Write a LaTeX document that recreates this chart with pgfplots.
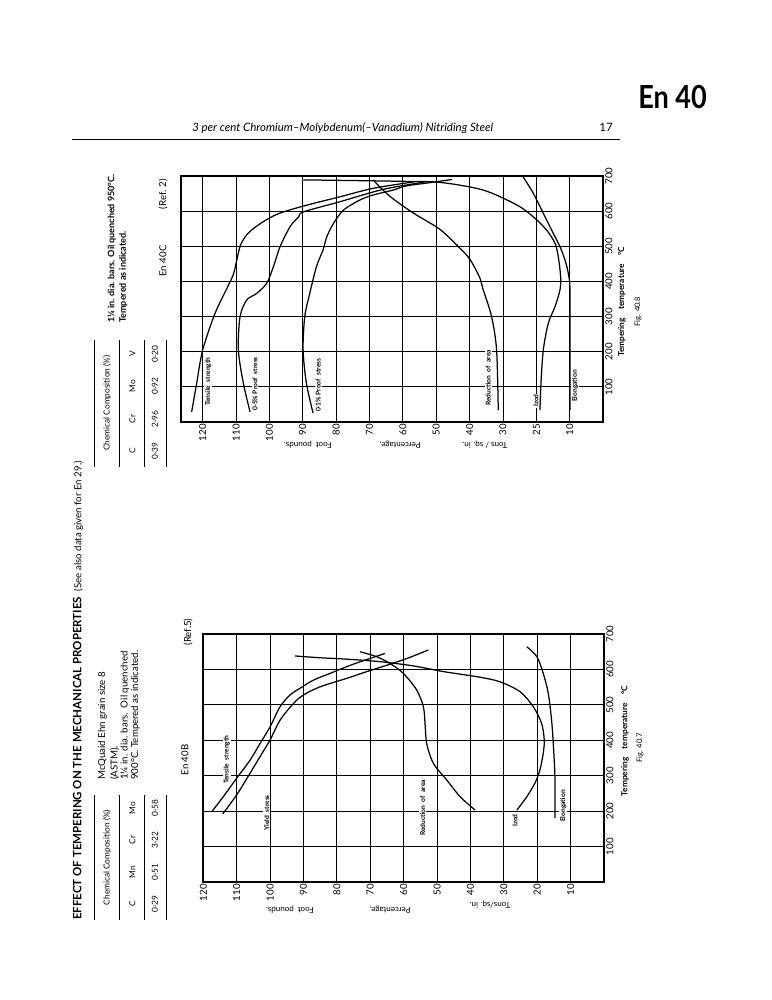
\documentclass[border=0pt]{standalone}
\usepackage{fontspec}
\setmainfont{Lato}
\usepackage{pgfplots}
\pgfplotsset{compat=1.18}
\newcommand{\fs}[1]{\fontsize{#1}{#1}\selectfont}
\pgfplotsset{
  chart/.style={
    scale only axis, anchor=south west,
    x dir=reverse, ymin=0, ymax=700,
    xtick={10,20,30,40,50,60,70,80,90,100,110,120},
    ytick={100,200,300,400,500,600,700},
    yticklabels={100,200,300,400,500,600,700},
    grid=major, major grid style={black, line width=0.6pt},
    major tick length=0pt,
    axis line style={line width=1.3pt},
    xticklabel style={rotate=90, anchor=east, inner sep=1.5pt, font=\fs{7}},
    yticklabel pos=right,
    yticklabel style={rotate=90, anchor=north, inner sep=1.5pt, font=\fs{7}},
  },
  curve/.style={black, line width=0.9pt, smooth, tension=0.5, no marks},
}
\begin{document}
\begin{tikzpicture}
\begin{scope}[x=0.254mm,y=-0.254mm]
\path[use as bounding box] (0,0) rectangle (772,1000);
\end{scope}

% ---------------- Fig. 40.8 (top) ----------------
\begin{axis}[chart,
  at={(181*0.254mm,-422*0.254mm)}, width=107.19mm, height=62.48mm,
  xmin=0, xmax=126.5,
  xticklabels={10,25,30,40,50,60,70,80,90,100,110,120}]
% Tensile strength
\addplot[curve] coordinates {(123.3,29) (121.8,110) (120,205) (116.3,309) (112.5,385) (110.8,420) (109.8,460) (108.6,505) (106.3,538) (102.5,566) (98,590) (93,606) (86,624) (78.8,641) (68.9,665) (56.3,684)};
% 0.5% proof stress
\addplot[curve] coordinates {(105.8,29) (107.8,110) (109.3,205) (108.8,300) (106.8,347) (103.8,366) (100.8,395) (98.8,442) (96.8,499) (93.8,556) (91.2,584) (89.8,598) (78.8,627) (65.9,662) (52.8,684)};
% 0.1% proof stress
\addplot[curve] coordinates {(86.9,25) (88.9,110) (89.9,205) (89.4,300) (87.9,366) (85.9,442) (83.9,490) (82.8,527) (80.8,565) (77.8,603) (72.8,632) (68.9,646) (62.9,660) (58.9,672) (52.8,680) (45.3,690)};
% Reduction of area
\addplot[curve] coordinates {(31.4,34) (31.9,205) (33.4,300) (35.9,376) (37,412) (39.9,463) (42.9,495) (46.9,532) (49.9,555) (56.9,595) (62.9,635) (66.5,665) (68.9,689)};
% Izod
\addplot[curve] coordinates {(18.9,34) (18.6,110) (17.9,205) (16.4,281) (14.4,328) (12.9,376) (12.7,413) (13.4,470) (14.4,509) (16.9,546) (20.9,584) (25.9,618) (35.9,660) (48.9,682) (60.9,685) (73.8,687) (89.8,689)};
% Elongation
\addplot[curve] coordinates {(9.9,34) (9.9,200) (9.9,376) (10.4,423) (11.4,461) (12.9,499) (14.9,537) (17.9,594) (20.9,651) (24.1,700)};
\end{axis}

% ---------------- Fig. 40.7 (bottom) ----------------
\begin{axis}[chart,
  at={(203.3*0.254mm,-882*0.254mm)}, width=101.78mm, height=62.99mm,
  xmin=0, xmax=120,
  xticklabels={10,20,30,40,50,60,70,80,90,100,110,120}]
% Tensile strength
\addplot[curve] coordinates {(117.5,198) (114,241) (110,293) (106,344) (103,391) (100,438) (97,495) (94,528) (91,547) (87,570) (82,589) (77,608) (72,625) (65.6,645)};
% Yield stress
\addplot[curve] coordinates {(114.2,192) (110,246) (106,307) (103,354) (100,401) (97,457) (93,504) (90,528) (85,551) (77,575) (71,594) (65,612) (59,631) (52.6,655)};
% Reduction of area
\addplot[curve] coordinates {(38.6,203) (43.1,241) (47.1,288) (51.1,335) (53.1,391) (53.6,448) (54.1,495) (56.1,542) (60.1,589) (64.1,617) (68.1,636) (73.1,650)};
% Izod
\addplot[curve] coordinates {(26.1,203) (23.1,241) (20.7,279) (19.2,316) (18.2,363) (17.9,401) (18.7,448) (21.2,495) (25.1,537) (31.1,565) (37.1,578) (48.1,594) (57.1,610) (67.1,622) (77,629) (85,633) (92.5,638)};
% Elongation
\addplot[curve] coordinates {(14.7,180) (14.7,297) (15.2,391) (15.7,457) (16.7,533) (18.2,589) (20.1,636) (23.1,664)};
\end{axis}

\begin{scope}[x=0.254mm,y=-0.254mm]
% header
\node[anchor=base east, inner sep=0, font=\bfseries\fs{23}\addfontfeatures{FakeStretch=0.85}] at (707,108) {En 40};
\node[anchor=base west, inner sep=0, font=\itshape\fs{8.3}] at (192,131) {3 per cent Chromium–Molybdenum(–Vanadium) Nitriding Steel};
\node[anchor=base east, inner sep=0, font=\fs{8.3}] at (613,131) {17};
\draw[line width=0.5pt] (72,139) -- (620,139);

% side title
\node[rotate=90, anchor=west, inner sep=0, font=\bfseries\fs{8.3}] at (78,920) {EFFECT OF TEMPERING ON THE MECHANICAL PROPERTIES\enspace{\mdseries\fs{7}(See also data given for En 29.)}};

% composition tables
\foreach \a/\b in {340/467, 795/920} {
  \foreach \xx in {94,119.5,144,166} { \draw[line width=0.5pt] (\xx,\a) -- (\xx,\b); }
}
\begin{scope}[every node/.style={rotate=90, inner sep=0, font=\fs{6}}]
\node at (107,403) {Chemical Composition (\%)};
\node at (132.5,451) {C}; \node at (132.5,419) {Cr}; \node at (132.5,386) {Mo}; \node at (132.5,354) {V};
\node at (155,451) {0·39}; \node at (155,419) {2·96}; \node at (155,386) {0·92}; \node at (155,354) {0·20};
\node at (107,857.5) {Chemical Composition (\%)};
\node at (132.5,904) {C}; \node at (132.5,872) {Mn}; \node at (132.5,840) {Cr}; \node at (132.5,808) {Mo};
\node at (155,904) {0·29}; \node at (155,872) {0·51}; \node at (155,840) {3·22}; \node at (155,808) {0·58};
\end{scope}

% notes
\begin{scope}[every node/.style={rotate=90, anchor=west, inner sep=0}]
\node[font=\bfseries\fs{6.5}] at (111.7,323) {1¼ in. dia. bars. Oil quenched 950°C.};
\node[font=\bfseries\fs{6.5}] at (123.3,323) {Tempered as indicated.};
\node[font=\fs{7}] at (102.5,780) {McQuaid Ehn grain size 8};
\node[font=\fs{7}] at (114.5,780) {(ASTM).};
\node[font=\fs{7}] at (125,780) {1¼ in. dia. bars.\enspace Oil quenched};
\node[font=\fs{7}] at (135.3,780) {900°C. Tempered as indicated.};
\end{scope}
\begin{scope}[every node/.style={rotate=90, inner sep=0, font=\fs{7}}]
\node at (163,261) {En 40C}; \node at (163,194) {(Ref. 2)};
\node at (185,760) {En 40B}; \node at (188,632) {(Ref.5)};
\end{scope}

% axis titles (upside down)
\begin{scope}[every node/.style={rotate=180, inner sep=0, font=\fs{5.8}}]
\node at (308,445) {Foot\enspace pounds.}; \node at (400,445) {Percentage,}; \node at (485,445) {Tons / sq. in.};
\node at (290,910) {Foot\enspace pounds.}; \node at (390,910) {Percentage,}; \node at (490,905) {Tons/sq. in.};
\end{scope}
\begin{scope}[every node/.style={rotate=90, inner sep=0}]
\node[font=\bfseries\fs{6}] at (621.7,301.7) {Tempering\quad temperature\quad °C};
\node[font=\fs{5.5}] at (638,311.7) {Fig. 40.8};
\node[font=\bfseries\fs{6}] at (625,741) {Tempering\quad temperature\quad °C};
\node[font=\fs{5.5}] at (640,748) {Fig. 40.7};
\end{scope}

% curve labels
\begin{scope}[every node/.style={rotate=90, anchor=west, inner sep=0.6pt, fill=white, font=\bfseries\fs{4.8}}]
\node at (208.3,407) {Tensile\enspace strength};
\node at (255,411.7) {0·5\% Proof\enspace stress};
\node at (318.3,413) {0·1\% Proof\enspace stress};
\node at (488.3,406.7) {Reduction\enspace of\enspace area};
\node at (536,408) {Izod};
\node at (575,403) {Elongation};
\node at (226.7,785) {Tensile\enspace strength};
\node at (266.7,831.7) {Yield\enspace stress};
\node at (422.7,836.7) {Reduction\enspace of\enspace area};
\node at (515,828) {Izod};
\node at (563.3,823) {Elongation};
\end{scope}
\end{scope}
\end{tikzpicture}
\end{document}
